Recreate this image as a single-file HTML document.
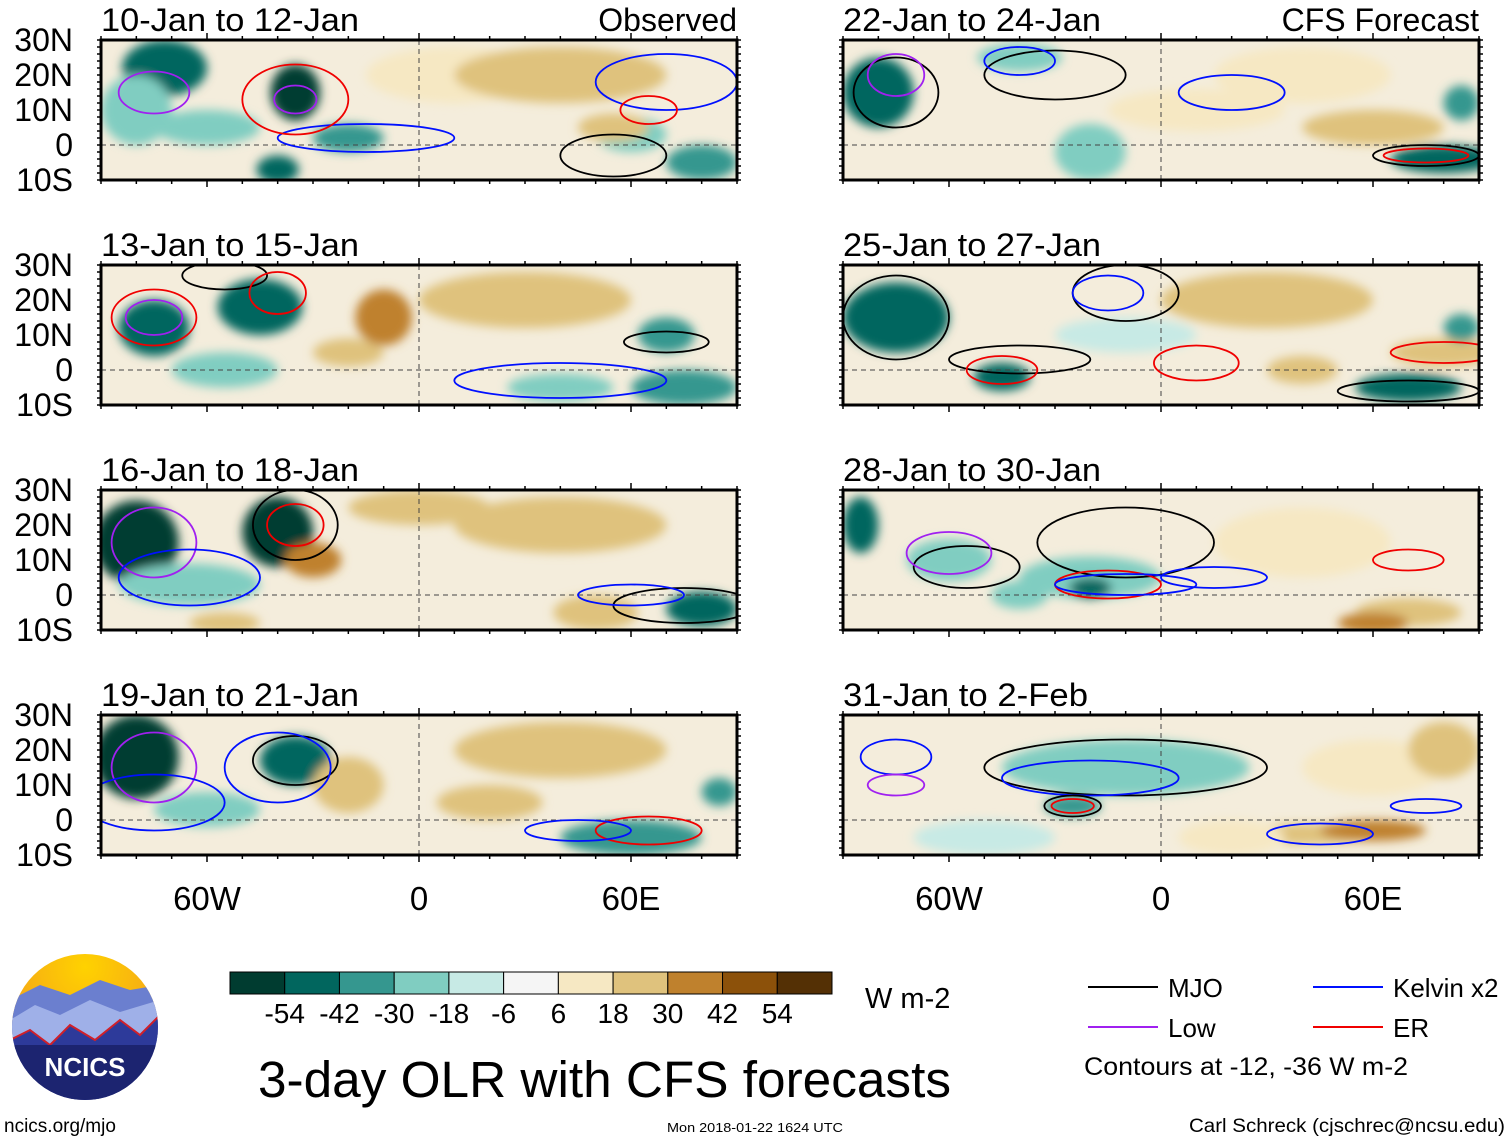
<!DOCTYPE html>
<html><head><meta charset="utf-8"><style>
body{margin:0;background:#fff;}
svg{display:block;font-family:"Liberation Sans",sans-serif;}
</style></head><body>
<svg id="chart" width="1510" height="1142" viewBox="0 0 1510 1142">
<defs>
<filter id="blur" x="-50%" y="-50%" width="200%" height="200%"><feGaussianBlur stdDeviation="5"/></filter>
<radialGradient id="sun" cx="0.5" cy="0.1" r="0.7"><stop offset="0" stop-color="#ffd200"/><stop offset="1" stop-color="#f29a1e"/></radialGradient>
<clipPath id="logoClip"><circle cx="85" cy="1027" r="73"/></clipPath>
</defs>
<g id="panels"></g>
<g id="colorbar"></g>
<text x="865" y="1008" font-size="29">W m-2</text>
<g id="legend"></g>
<text x="1084" y="1075" font-size="25" textLength="324" lengthAdjust="spacingAndGlyphs">Contours at -12, -36 W m-2</text>
<text x="258" y="1097" font-size="51" textLength="693" lengthAdjust="spacingAndGlyphs">3-day OLR with CFS forecasts</text>
<text x="4" y="1132" font-size="19">ncics.org/mjo</text>
<text x="667" y="1132" font-size="13" textLength="176" lengthAdjust="spacingAndGlyphs">Mon 2018-01-22 1624 UTC</text>
<text x="1189" y="1132" font-size="19" textLength="316" lengthAdjust="spacingAndGlyphs">Carl Schreck (cjschrec@ncsu.edu)</text>
<g clip-path="url(#logoClip)">
<rect x="10" y="952" width="150" height="150" fill="url(#sun)"/>
<path d="M10 1000 L40 985 L70 995 L100 980 L130 990 L160 985 L160 1102 L10 1102Z" fill="#6b7fcf"/>
<path d="M10 1020 L35 1005 L60 1015 L90 1000 L120 1012 L160 1000 L160 1102 L10 1102Z" fill="#9fb0e8"/>
<path d="M10 1040 L30 1030 L50 1045 L70 1025 L95 1040 L120 1020 L140 1035 L160 1015 L160 1102 L10 1102Z" fill="#2d3a9a" stroke="#d0202a" stroke-width="2"/>
<rect x="10" y="1045" width="150" height="60" fill="#1c2470"/>
</g>
<text x="85" y="1076" font-size="26" font-weight="bold" fill="#fff" text-anchor="middle">NCICS</text>
</svg>
<script>
const NS="http://www.w3.org/2000/svg";
// ---- data ----
const titles=["10-Jan to 12-Jan","13-Jan to 15-Jan","16-Jan to 18-Jan","19-Jan to 21-Jan","22-Jan to 24-Jan","25-Jan to 27-Jan","28-Jan to 30-Jan","31-Jan to 2-Feb"];
const cbLevels=[-54,-42,-30,-18,-6,6,18,30,42,54];
const cbColors=["#003c30","#01665e","#35978f","#80cdc1","#c7eae5","#f5f5f5","#f6e8c3","#dfc27d","#bf812d","#8c510a","#543005"];
const latTicks=["30N","20N","10N","0","10S"];
const lonTicks=["60W","0","60E"];
// OLR anomaly blobs per panel: [lon, lat, rxDeg, ryDeg, value]
const blobs=[
[[-72,22,12,8,-48],[-35,15,7,8,-54],[-20,2,10,4,-36],[80,-5,10,5,-36],[60,3,10,5,-18],[10,20,25,8,18],[40,20,30,8,24],[55,5,10,4,30],[-60,5,15,5,-18],[-40,-7,6,4,-48],[-80,10,10,10,-24]],
[[-75,12,10,8,-48],[-45,18,12,8,-48],[-20,5,10,4,30],[-10,15,8,8,36],[30,20,30,8,24],[75,-5,15,5,-36],[40,-5,15,4,-24],[-55,0,15,5,-18],[70,10,8,5,-30]],
[[-80,15,12,12,-54],[-40,18,10,10,-54],[-30,10,8,5,36],[40,20,30,8,24],[80,-4,10,5,-48],[50,-5,12,5,24],[-65,3,20,6,-18],[0,25,20,5,24],[-55,-8,10,3,30]],
[[-80,18,12,12,-54],[-35,17,10,7,-48],[-20,10,10,8,24],[40,20,30,8,24],[60,-5,20,5,-36],[85,8,5,4,-30],[20,5,15,5,24],[-60,3,15,5,-18]],
[[-80,15,10,10,-48],[-40,25,12,4,-24],[80,-4,15,4,-48],[10,10,25,6,18],[60,5,20,5,24],[85,12,5,5,-36],[-20,-2,10,8,-18],[40,20,25,8,18]],
[[-75,15,15,10,-42],[-45,-2,8,4,-42],[70,-5,15,4,-42],[80,5,15,4,30],[40,0,10,4,30],[30,20,30,8,24],[-10,10,20,5,-12],[85,12,5,4,-30]],
[[-85,20,5,8,-42],[-20,5,20,6,-24],[-20,2,6,3,-48],[70,-5,15,4,30],[40,15,25,10,18],[-60,10,12,6,-18],[60,-8,10,3,36],[-40,0,8,4,-24]],
[[-10,15,35,8,-24],[-25,4,8,3,-36],[40,-4,20,3,30],[60,-3,15,3,36],[60,15,20,8,18],[-50,-5,20,5,-12],[20,-5,15,5,18],[80,20,10,8,24]]
];
// contours: [lon, lat, rxDeg, ryDeg, typeIndex]
const ctypes=["#000","#a020f0","#0010ff","#f00000"];
const contours=[
[[55,-3,15,6,0],[-15,2,25,4,2],[-35,13,15,10,3],[70,18,20,8,2],[-75,15,10,6,1],[-35,13,6,4,1],[65,10,8,4,3]],
[[-55,27,12,4,0],[-75,15,12,8,3],[-75,15,8,5,1],[40,-3,30,5,2],[70,8,12,3,0],[-40,22,8,6,3]],
[[-75,15,12,10,1],[-65,5,20,8,2],[-35,20,12,10,0],[75,-3,20,5,0],[60,0,15,3,2],[-35,20,8,6,3]],
[[-75,15,12,10,1],[-75,5,20,8,2],[-35,17,12,7,0],[-40,15,15,10,2],[65,-3,15,4,3],[45,-3,15,3,2]],
[[-75,15,12,10,0],[-30,20,20,7,0],[20,15,15,5,2],[75,-3,15,3,0],[75,-3,12,2,3],[-40,24,10,4,2],[-75,20,8,6,1]],
[[-75,15,15,12,0],[-40,3,20,4,0],[-45,0,10,4,3],[-10,22,15,8,0],[-15,22,10,5,2],[70,-6,20,3,0],[80,5,15,3,3],[10,2,12,5,3]],
[[-55,8,15,6,0],[-10,15,25,10,0],[-15,3,15,4,3],[-10,3,20,3,2],[15,5,15,3,2],[70,10,10,3,3],[-60,12,12,6,1]],
[[-10,15,40,8,0],[-20,12,25,5,2],[-25,4,8,3,0],[-25,4,6,2,3],[45,-4,15,3,2],[75,4,10,2,2],[-75,18,10,5,2],[-75,10,8,3,1]]
];
const legendItems=[["MJO",0,1088,987],["Low",1,1088,1027],["Kelvin x2",2,1313,987],["ER",3,1313,1027]];
// ---- helpers ----
function el(t,a,p){const e=document.createElementNS(NS,t);for(const k in a)e.setAttribute(k,a[k]);p.appendChild(e);return e;}
function colorFor(v){let i=0;while(i<cbLevels.length&&v>cbLevels[i])i++;return cbColors[i];}
const PW=636,PH=140;
function panelOrigin(i){return [i<4?101:843, 40+(i%4)*225];}
const xOf=(ox,lon)=>ox+(lon+90)/180*PW;
const yOf=(oy,lat)=>oy+(30-lat)/40*PH;
const root=document.getElementById('panels');
titles.forEach((t,i)=>{
  const [ox,oy]=panelOrigin(i);
  const g=el('g',{},root);
  
  
  const cid='cp'+i;
  const cp=el('clipPath',{id:cid},g);el('rect',{x:ox,y:oy,width:PW,height:PH},cp);
  const inner=el('g',{'clip-path':'url(#'+cid+')'},g);
  el('rect',{x:ox,y:oy,width:PW,height:PH,fill:"#f4eddc"},inner);
  const bg=el('g',{filter:'url(#blur)'},inner);
  blobs[i].forEach(b=>{
    const e=el('ellipse',{cx:xOf(ox,b[0]),cy:yOf(oy,b[1]),rx:b[2]/180*PW,ry:b[3]/40*PH,fill:colorFor(b[4])},bg);
    
    
  });
  el('line',{x1:ox,x2:ox+PW,y1:yOf(oy,0),y2:yOf(oy,0),stroke:'#444','stroke-dasharray':'5,4','stroke-width':1},inner);
  el('line',{x1:xOf(ox,0),x2:xOf(ox,0),y1:oy,y2:oy+PH,stroke:'#444','stroke-dasharray':'5,4','stroke-width':1},inner);
  contours[i].forEach(c=>{
    const e=el('ellipse',{cx:xOf(ox,c[0]),cy:yOf(oy,c[1]),rx:c[2]/180*PW,ry:c[3]/40*PH,fill:'none',stroke:ctypes[c[4]],'stroke-width':1.8},inner);
    
    
  });
  el('rect',{x:ox,y:oy,width:PW,height:PH,fill:'none',stroke:'#000','stroke-width':3},g);
  for(let lon=-90;lon<=90;lon+=10){
    const x=xOf(ox,lon),L=(lon%60===0)?7:4;
    el('line',{x1:x,x2:x,y1:oy,y2:oy-L,stroke:'#000','stroke-width':1.5},g);
    el('line',{x1:x,x2:x,y1:oy+PH,y2:oy+PH+L,stroke:'#000','stroke-width':1.5},g);
  }
  for(let lat=-10;lat<=30;lat+=2){
    const y=yOf(oy,lat);
    el('line',{x1:ox,x2:ox-4,y1:y,y2:y,stroke:'#000','stroke-width':1.5},g);
    el('line',{x1:ox+PW,x2:ox+PW+4,y1:y,y2:y,stroke:'#000','stroke-width':1.5},g);
  }
  const tt=el('text',{x:ox,y:oy-9,'font-size':32,textLength:(t.length===16?258:245),lengthAdjust:'spacingAndGlyphs'},g);tt.textContent=t;
  
  
  if(i===0||i===4){
    const s=el('text',{x:ox+PW,y:oy-9,'font-size':32,'text-anchor':'end'},g);s.textContent=i===0?"Observed":"CFS Forecast";
    
    
  }
  if(i<4){latTicks.forEach((l,k)=>{
    const tx=el('text',{x:73,y:oy+k*35+11,'font-size':32,'text-anchor':'end'},g);tx.textContent=l;
    
    
  });}
  if(i%4===3){lonTicks.forEach((l,k)=>{
    const tx=el('text',{x:xOf(ox,-60+k*60),y:910,'font-size':33,'text-anchor':'middle'},g);tx.textContent=l;
    
    
  });}
});
// colorbar
const cb=document.getElementById('colorbar');
const cbx=230,cbw=602,cby=972,cbh=22,bw=cbw/cbColors.length;
cbColors.forEach((c,k)=>{
  const r=el('rect',{x:cbx+k*bw,y:cby,width:bw,height:cbh,fill:c,stroke:'#000','stroke-width':1},cb);
  
  
});
cbLevels.forEach((v,k)=>{
  const t=el('text',{x:cbx+(k+1)*bw,y:1023,'font-size':28,'text-anchor':'middle'},cb);t.textContent=String(v);
  
  
});
// legend
const lg=document.getElementById('legend');
legendItems.forEach(it=>{
  const g=el('g',{},lg);
  
  
  el('line',{x1:it[2],x2:it[2]+70,y1:it[3],y2:it[3],stroke:ctypes[it[1]],'stroke-width':2},g);
  const t=el('text',{x:it[2]+80,y:it[3]+10,'font-size':26},g);t.textContent=it[0];
});
</script>
</body></html>
